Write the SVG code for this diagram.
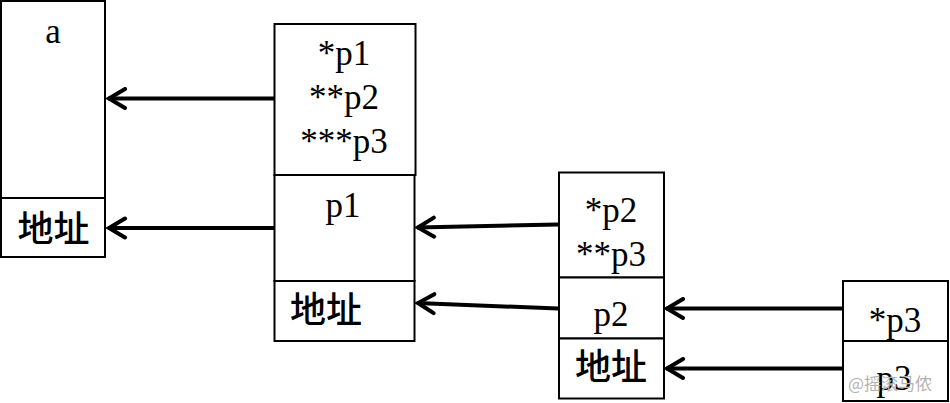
<svg xmlns="http://www.w3.org/2000/svg" width="950" height="403" viewBox="0 0 950 403">
<style>
.box{fill:#fff;stroke:#000;stroke-width:2}
.t{font-family:"Liberation Serif","Times New Roman",serif;font-size:35px;fill:#000;text-anchor:middle}
.c{font-family:"Noto Sans CJK SC","Noto Sans",sans-serif;font-size:36px;fill:#000;font-weight:500}
.mid{text-anchor:middle}
.ar{stroke:#000;stroke-width:4;fill:none}
.wm{font-family:"Noto Sans CJK SC",sans-serif;font-size:17px;fill:#b3b3b3}
</style>
<defs>
<marker id="ah" viewBox="-22 -12 26 24" refX="0" refY="0" markerWidth="26" markerHeight="24" markerUnits="userSpaceOnUse" orient="auto">
<path d="M-17,-9.5 L-1,0 L-17,9.5" fill="none" stroke="#000" stroke-width="4" stroke-linecap="round"/>
</marker>
</defs>
<rect width="950" height="403" fill="#fff"/>
<g id="node-a">
<rect class="box" x="1" y="1" width="104" height="197"/>
<rect class="box" x="1" y="198" width="104" height="59"/>
<text class="t" x="53" y="43">a</text>
<text class="c mid" x="53.5" y="242">地址</text>
</g>
<g id="node-p1">
<rect class="box" x="274.5" y="24" width="141" height="151"/>
<rect class="box" x="274.5" y="175" width="140" height="106"/>
<rect class="box" x="274.5" y="281" width="140" height="60"/>
<text class="t" x="344" y="65">*p1</text>
<text class="t" x="344" y="109">**p2</text>
<text class="t" x="344" y="153">***p3</text>
<text class="t" x="343" y="217">p1</text>
<text class="c" x="290" y="323">地址</text>
</g>
<g id="node-p2">
<rect class="box" x="559" y="172.5" width="105" height="105"/>
<rect class="box" x="559" y="277.5" width="105" height="61"/>
<rect class="box" x="559" y="338.5" width="105" height="60"/>
<text class="t" x="611" y="222">*p2</text>
<text class="t" x="611" y="266">**p3</text>
<text class="t" x="611" y="326">p2</text>
<text class="c mid" x="611" y="380">地址</text>
</g>
<g id="node-p3">
<rect class="box" x="843" y="281" width="105" height="60"/>
<rect class="box" x="843" y="341" width="105" height="60"/>
<text class="t" x="895" y="332">*p3</text>
<text class="t" x="894" y="390">p3</text>
</g>
<g id="connectors">
<line class="ar" x1="274" y1="98.5" x2="108" y2="98.5" marker-end="url(#ah)"/>
<line class="ar" x1="274" y1="228" x2="108" y2="228" marker-end="url(#ah)"/>
<line class="ar" x1="558" y1="224.5" x2="417" y2="227.5" marker-end="url(#ah)"/>
<line class="ar" x1="558" y1="308.5" x2="417" y2="303" marker-end="url(#ah)"/>
<line class="ar" x1="842" y1="308.5" x2="666" y2="308.5" marker-end="url(#ah)"/>
<line class="ar" x1="842" y1="368.5" x2="666" y2="368.5" marker-end="url(#ah)"/>
</g>
<text class="wm" x="848" y="390">@摇滚马侬</text>
</svg>
